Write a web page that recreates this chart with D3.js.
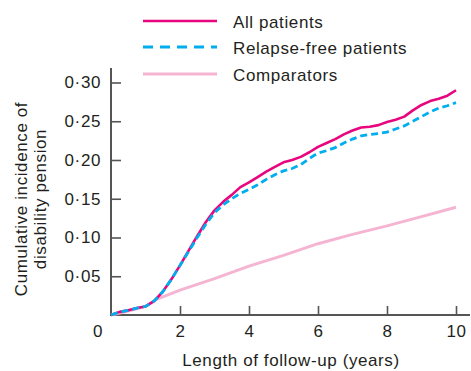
<!DOCTYPE html>
<html><head><meta charset="utf-8">
<script src="https://cdn.jsdelivr.net/npm/d3@7"></script>
<style>
body{margin:0;background:#fff;}
text{font-family:"Liberation Sans",Arial,Helvetica,sans-serif;fill:#231f20;letter-spacing:0.6px;}
</style></head>
<body><svg id="c" width="471" height="371"></svg>
<script>
const years = [0,0.25,0.5,0.75,1,1.25,1.5,1.75,2,2.25,2.5,2.75,3,3.25,3.5,3.75,4,4.25,4.5,4.75,5,5.25,5.5,5.75,6,6.25,6.5,6.75,7,7.25,7.5,7.75,8,8.25,8.5,8.75,9,9.25,9.5,9.75,10];
const allPatients = [0,0.004,0.006,0.009,0.011,0.018,0.030,0.046,0.064,0.083,0.102,0.120,0.135,0.146,0.155,0.165,0.171,0.178,0.185,0.191,0.197,0.200,0.204,0.210,0.217,0.222,0.227,0.233,0.238,0.242,0.243,0.245,0.249,0.252,0.256,0.264,0.271,0.276,0.279,0.283,0.290];
const relapseFree = [0,0.004,0.006,0.009,0.011,0.018,0.030,0.046,0.064,0.082,0.100,0.117,0.132,0.142,0.150,0.157,0.162,0.168,0.175,0.181,0.186,0.189,0.194,0.202,0.209,0.212,0.216,0.222,0.227,0.231,0.233,0.234,0.236,0.240,0.244,0.250,0.256,0.262,0.267,0.270,0.274];
const compYears = [0,0.5,1,1.3,2,3,4,5,6,7,8,9,10];
const comparators = [0,0.005,0.011,0.020,0.032,0.047,0.063,0.077,0.092,0.104,0.115,0.127,0.139];
const xTicks = [2,4,6,8,10];
const yTicks = [0.05,0.10,0.15,0.20,0.25,0.30];
const seriesNames = ["All patients","Relapse-free patients","Comparators"];
const colors = ["#e8067f","#00aeef","#f5b5d2"];

const FS = 17;
const svg = d3.select("#c");
const x = d3.scaleLinear().domain([0,10]).range([111,456]);
const y = d3.scaleLinear().domain([0,0.30]).range([315,82.5]);
const fmt = d => d3.format(".2f")(d).replace(".", "\u00b7");

// axes
const axisColor = "#555";
svg.append("line").attr("x1",x(0)-1).attr("x2",470).attr("y1",y(0)).attr("y2",y(0)).attr("stroke",axisColor).attr("stroke-width",2);
svg.append("line").attr("x1",x(0)).attr("x2",x(0)).attr("y1",y(0)+1).attr("y2",68).attr("stroke",axisColor).attr("stroke-width",2);

const xa = svg.append("g").attr("transform",`translate(0,${y(0)})`)
  .call(d3.axisBottom(x).tickValues(xTicks).tickSizeInner(-9).tickSizeOuter(0).tickPadding(10));
const ya = svg.append("g").attr("transform",`translate(${x(0)},0)`)
  .call(d3.axisLeft(y).tickValues(yTicks).tickFormat(fmt).tickSizeInner(-10).tickSizeOuter(0).tickPadding(10));
[xa,ya].forEach(g=>{
  g.select(".domain").remove();
  g.selectAll(".tick line").attr("stroke",axisColor).attr("stroke-width",1.6);
  g.selectAll("text").attr("font-size",FS).attr("fill","#231f20").style("font-family","'Liberation Sans',Arial,sans-serif");
});
svg.append("text").attr("x",98).attr("y",337).attr("text-anchor","middle").attr("font-size",FS).text("0");

// axis titles
svg.append("text").attr("x",291).attr("y",366).attr("text-anchor","middle").attr("font-size",FS).text("Length of follow-up (years)");
const yt = svg.append("text").attr("transform","translate(27,199) rotate(-90)").attr("text-anchor","middle").attr("font-size",FS);
yt.append("tspan").attr("x",0).attr("y",0).text("Cumulative incidence of");
yt.append("tspan").attr("x",0).attr("y",19).text("disability pension");

// lines
const line = d3.line().x(d=>x(d[0])).y(d=>y(d[1]));
svg.append("path").datum(compYears.map((v,i)=>[v,comparators[i]])).attr("d",line)
  .attr("fill","none").attr("stroke",colors[2]).attr("stroke-width",3);
svg.append("path").datum(years.map((v,i)=>[v,allPatients[i]])).attr("d",line)
  .attr("fill","none").attr("stroke",colors[0]).attr("stroke-width",2.6).attr("stroke-linejoin","round");
svg.append("path").datum(years.map((v,i)=>[v,relapseFree[i]])).attr("d",line)
  .attr("fill","none").attr("stroke",colors[1]).attr("stroke-width",2.8).attr("stroke-dasharray","7,4");

// legend
const legY = [21,47,74];
seriesNames.forEach((n,i)=>{
  const l = svg.append("line").attr("x1",143).attr("x2",217).attr("y1",legY[i]).attr("y2",legY[i])
    .attr("stroke",colors[i]).attr("stroke-width",i===0?2.6:3);
  if(i===1) l.attr("stroke-dasharray","10,7");
  svg.append("text").attr("x",233).attr("y",legY[i]+6.5).attr("font-size",FS).text(n);
});
</script></body></html>
